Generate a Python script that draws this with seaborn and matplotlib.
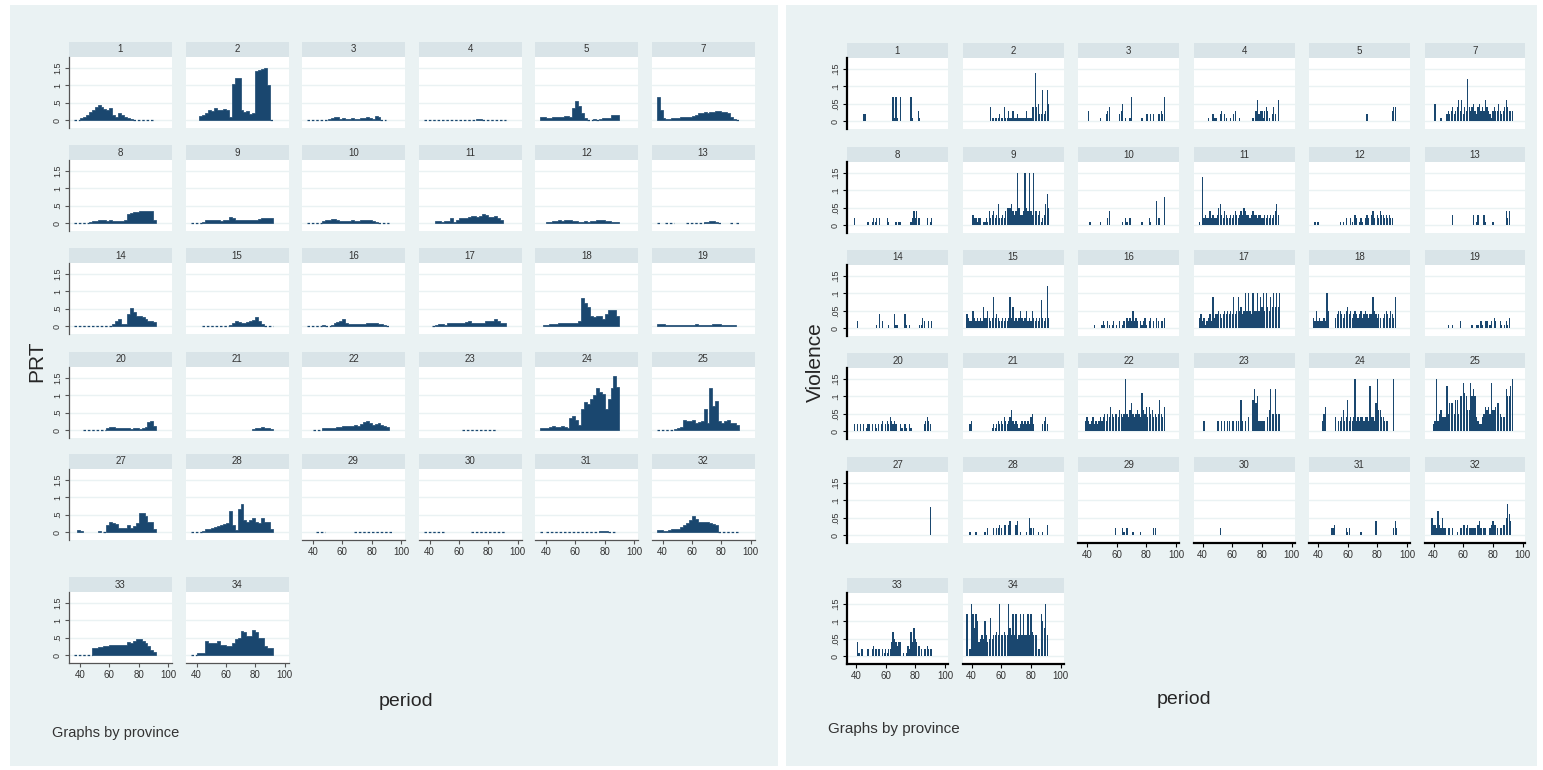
import numpy as np
import pandas as pd
import matplotlib
matplotlib.use('Agg')
import matplotlib.pyplot as plt
from matplotlib.patches import Rectangle
import seaborn as sns

N = None

provinces = [1, 2, 3, 4, 5, 7, 8, 9, 10, 11, 12, 13, 14, 15, 16, 17, 18, 19,
             20, 21, 22, 23, 24, 25, 27, 28, 29, 30, 31, 32, 33, 34]

# PRT, read every 2 periods (37, 39, ..., 93), in hundredths; None = no data
prt_periods = list(range(37, 94, 2))
prt_1 = [0, 0, 5, 10, 15, 22, 30, 38, 42, 38, 33, 30, 35, 15, 10, 20, 15, 10, 5, 3, 0, 0, 0, 0, 0, 0, 0, N, N]
prt_2 = [N, N, N, 12, 15, 20, 28, 25, 35, 30, 30, 32, 28, 10, 105, 120, 122, 30, 22, 25, 18, 20, 140, 145, 148, 150, 100, 0, N]
prt_3 = [0, 0, 0, 0, 0, 0, 0, 3, 5, 8, 8, 3, 5, 3, 3, 5, 3, 3, 5, 5, 8, 5, 3, 12, 8, 0, 0, N, N]
prt_4 = [0, 0, 0, 0, 0, 0, 0, 0, 0, 0, 0, 0, 0, 0, 0, 0, 0, 0, 3, 3, 0, 0, 0, 0, 0, 0, 0, 0, N]
prt_5 = [8, 8, 6, 6, 8, 8, 10, 10, 12, 12, 10, 35, 55, 40, 20, 5, 0, 0, 3, 0, 3, 5, 5, 5, 15, 15, 15, N, N]
prt_7 = [65, 30, 5, 3, 3, 5, 5, 5, 8, 8, 10, 10, 12, 15, 20, 20, 22, 20, 22, 22, 25, 25, 22, 22, 20, 10, 3, 0, N]
prt_8 = [0, 0, 0, 0, 0, 3, 5, 5, 8, 10, 10, 5, 8, 5, 5, 5, 5, 10, 25, 30, 32, 32, 35, 35, 35, 35, 35, 10, N]
prt_9 = [0, 0, 0, 0, 3, 8, 8, 8, 8, 8, 6, 8, 10, 18, 15, 8, 8, 8, 8, 10, 10, 10, 8, 12, 15, 15, 15, 15, N]
prt_10 = [0, 0, 0, 0, 0, 5, 10, 10, 12, 12, 10, 5, 5, 6, 5, 8, 6, 5, 8, 10, 8, 10, 6, 3, 0, 0, 0, 0, N]
prt_11 = [N, N, N, N, 5, 5, 3, 5, 5, 15, 3, 10, 15, 15, 15, 18, 20, 20, 18, 20, 25, 22, 18, 18, 20, 15, 10, N, N]
prt_12 = [N, N, 3, 3, 5, 5, 8, 6, 8, 10, 8, 5, 5, 3, 3, 5, 3, 5, 5, 8, 10, 8, 5, 5, 3, 3, 3, N, N]
prt_13 = [0, N, N, 0, 0, 0, N, N, N, N, 0, 0, 0, 0, 0, 0, 2, 3, 5, 5, 3, 0, N, N, N, 0, N, 0, N]
prt_14 = [0, 0, 0, 0, 0, 0, 0, 0, 0, 0, 0, 0, 0, 5, 15, 20, 5, 5, 35, 52, 40, 30, 28, 25, 20, 15, 15, 12, N]
prt_15 = [N, N, N, N, 0, 0, 0, 0, 0, 0, 0, 0, 0, 3, 10, 15, 12, 10, 10, 12, 15, 18, 25, 15, 5, 0, 0, 0, N]
prt_16 = [0, 0, 0, 0, 0, 3, 0, 0, 3, 10, 12, 15, 20, 8, 5, 5, 5, 5, 5, 5, 8, 10, 10, 10, 5, 5, 3, 0, N]
prt_17 = [N, N, N, 0, 3, 5, 5, 3, 8, 8, 10, 8, 10, 10, 12, 15, 10, 8, 8, 8, 10, 15, 15, 15, 20, 15, 10, 10, N]
prt_18 = [N, 2, 3, 5, 5, 5, 8, 8, 10, 8, 10, 8, 10, 15, 80, 65, 55, 30, 25, 28, 30, 20, 35, 45, 45, 45, 30, N, N]
prt_19 = [5, 5, 5, 3, 2, 3, 2, 2, 3, 2, 3, 3, 3, 5, 3, 3, 3, 2, 3, 5, 5, 5, 3, 3, 2, 2, 2, N, N]
prt_20 = [N, N, N, 0, 0, 0, 0, 0, 0, 0, 0, 5, 10, 8, 5, 5, 5, 5, 5, 3, 5, 5, 3, 5, 10, 22, 25, 12, N]
prt_21 = [N, N, N, N, N, N, N, N, N, N, N, N, N, N, N, N, N, N, N, N, N, 3, 5, 5, 8, 5, 5, 3, N]
prt_22 = [N, N, 0, 0, 0, 5, 5, 5, 5, 5, 8, 10, 12, 12, 12, 12, 15, 12, 18, 22, 25, 20, 15, 18, 20, 15, 12, 10, N]
prt_23 = [N, N, N, N, N, N, N, N, N, N, N, N, N, 0, 0, 0, 0, 0, 0, 0, 0, 0, 0, 0, 0, N, N, N, N]
prt_24 = [5, 5, 5, 8, 12, 10, 10, 12, 10, 5, 35, 40, 30, 15, 60, 80, 75, 90, 100, 120, 110, 105, 60, 90, 120, 155, 125, N, N]
prt_25 = [0, 0, 0, 0, 0, 0, 3, 5, 8, 30, 25, 25, 30, 20, 22, 25, 60, 20, 120, 70, 85, 25, 20, 25, 30, 20, 20, 15, N]
prt_27 = [N, 5, 3, N, N, N, N, N, 2, N, 0, 20, 28, 25, 22, 12, 12, 12, 20, 12, 18, 25, 55, 55, 45, 30, 28, 10, N]
prt_28 = [0, 0, 0, 0, 3, 8, 10, 12, 15, 18, 20, 22, 25, 60, 20, 5, 65, 80, 35, 30, 35, 40, 30, 25, 40, 30, 30, 10, N]
prt_29 = [N, N, N, 0, 0, 0, N, N, N, N, N, N, N, N, N, N, 0, 0, 0, 0, 0, 0, 0, 0, 0, 0, 0, 0, 0]
prt_30 = [0, 0, 0, 0, 0, 0, 0, N, N, N, N, N, N, N, N, N, 0, 0, 0, 0, 0, 0, 0, 0, 0, 0, 0, 0, N]
prt_31 = [0, N, 0, 0, 0, 0, 0, 0, 0, 0, 0, 0, 0, 0, 0, 0, 0, 0, 0, 0, 2, 3, 2, 0, 0, 0, N, N, N]
prt_32 = [5, 5, 3, 3, 5, 8, 10, 10, 15, 20, 25, 35, 45, 38, 30, 30, 28, 28, 25, 22, 20, 0, 0, 0, 0, 0, 0, 0, N]
prt_33 = [0, 0, 0, 0, 0, 0, 20, 20, 22, 22, 25, 25, 28, 28, 28, 28, 28, 28, 38, 35, 40, 45, 45, 40, 35, 25, 15, 10, N]
prt_34 = [0, 0, 5, 5, 5, 40, 35, 35, 35, 40, 30, 28, 25, 25, 35, 45, 50, 70, 65, 55, 55, 72, 65, 50, 50, 25, 20, 20, N]

# Violence by period, in hundredths
vio_1 = {45: 2, 46: 2, 65: 7, 66: 1, 67: 7, 68: 1, 70: 7, 77: 7, 78: 1, 82: 3, 83: 1}
vio_2 = {53: 4, 54: 1, 55: 1, 56: 1, 57: 1, 58: 1, 59: 2, 60: 1, 61: 1, 62: 4, 63: 1, 64: 1, 65: 3, 66: 1,
         67: 1, 68: 3, 69: 1, 70: 1, 71: 2, 72: 1, 73: 1, 74: 1, 75: 1, 76: 1, 77: 3, 78: 1, 79: 1, 80: 1,
         81: 4, 82: 4, 83: 14, 84: 4, 85: 5, 86: 2, 87: 2, 88: 9, 89: 2, 90: 3, 91: 9, 92: 5}
vio_3 = {41: 3, 49: 1, 53: 2, 54: 3, 55: 4, 62: 2, 63: 3, 64: 5, 66: 1, 69: 1, 70: 7, 77: 1, 80: 2, 81: 2,
         83: 2, 85: 2, 88: 2, 89: 2, 90: 3, 91: 2, 92: 7}
vio_4 = {44: 1, 47: 2, 48: 1, 49: 1, 52: 2, 53: 3, 55: 2, 56: 1, 59: 1, 61: 2, 62: 3, 65: 1, 74: 1, 76: 3,
         77: 6, 78: 2, 79: 3, 80: 3, 81: 1, 82: 3, 83: 4, 84: 3, 85: 1, 87: 2, 88: 4, 89: 2, 91: 6}
vio_5 = {73: 2, 90: 3, 91: 4, 92: 4}
vio_7 = {41: 5, 45: 1, 49: 2, 50: 3, 51: 2, 52: 3, 53: 4, 54: 2, 55: 3, 56: 4, 57: 6, 58: 3, 59: 6, 60: 2,
         61: 4, 62: 3, 63: 12, 64: 4, 65: 3, 66: 4, 67: 5, 68: 3, 69: 2, 70: 4, 71: 5, 72: 3, 73: 4, 74: 3,
         75: 6, 76: 4, 77: 3, 78: 2, 79: 1, 80: 3, 81: 4, 82: 3, 83: 3, 84: 5, 85: 3, 86: 2, 87: 3, 88: 4,
         89: 6, 90: 4, 91: 3, 92: 3, 93: 3}
vio_8 = {39: 2, 48: 1, 51: 1, 52: 2, 53: 1, 54: 2, 56: 2, 61: 2, 62: 1, 67: 1, 69: 1, 70: 1, 77: 1, 78: 2,
         79: 4, 80: 2, 81: 4, 82: 2, 83: 2, 88: 2, 90: 1, 91: 2}
vio_9 = {41: 3, 42: 2, 43: 2, 44: 1, 45: 2, 46: 2, 48: 1, 49: 1, 50: 2, 51: 1, 52: 4, 53: 2, 54: 3, 55: 4,
         56: 2, 57: 3, 58: 6, 59: 2, 60: 2, 61: 3, 62: 2, 63: 4, 64: 5, 65: 5, 66: 5, 67: 6, 68: 4, 69: 3,
         70: 4, 71: 15, 72: 5, 73: 3, 74: 3, 75: 4, 76: 15, 77: 5, 78: 4, 79: 15, 80: 4, 81: 3, 82: 15,
         83: 4, 84: 4, 85: 3, 86: 4, 87: 1, 88: 2, 89: 3, 90: 6, 91: 9, 92: 5}
vio_10 = {42: 1, 49: 1, 54: 2, 55: 4, 64: 1, 66: 2, 67: 1, 69: 2, 77: 1, 82: 2, 83: 1, 87: 7, 88: 2, 89: 2,
          92: 8}
vio_11 = {38: 1, 40: 14, 41: 2, 42: 3, 43: 2, 44: 2, 45: 4, 46: 2, 47: 3, 48: 2, 49: 2, 50: 3, 51: 5,
          52: 6, 53: 3, 54: 2, 55: 4, 56: 3, 57: 2, 58: 2, 59: 3, 60: 2, 61: 3, 62: 4, 63: 3, 64: 2, 65: 3,
          66: 4, 67: 3, 68: 5, 69: 4, 70: 3, 71: 3, 72: 2, 73: 3, 74: 4, 75: 3, 76: 3, 77: 2, 78: 3, 79: 3,
          80: 2, 81: 2, 82: 3, 83: 2, 84: 3, 85: 2, 86: 3, 87: 2, 88: 3, 89: 4, 90: 6, 91: 3}
vio_12 = {38: 1, 40: 1, 55: 1, 57: 1, 59: 2, 62: 2, 63: 1, 65: 3, 66: 2, 68: 1, 69: 2, 70: 1, 72: 2, 73: 3,
          74: 2, 76: 3, 77: 4, 78: 2, 80: 3, 81: 2, 82: 4, 83: 3, 84: 3, 85: 2, 86: 3, 87: 2, 88: 3, 89: 2,
          90: 2}
vio_13 = {53: 3, 67: 3, 69: 1, 70: 3, 74: 3, 75: 1, 80: 1, 89: 4, 90: 2, 91: 4}
vio_14 = {41: 2, 54: 1, 56: 4, 58: 2, 62: 1, 66: 4, 67: 1, 68: 1, 73: 4, 74: 1, 76: 1, 83: 1, 84: 1, 85: 3,
          86: 2, 89: 2, 91: 2}
vio_15 = {37: 4, 38: 3, 39: 2, 40: 2, 41: 5, 42: 3, 43: 2, 44: 3, 45: 2, 46: 3, 47: 2, 48: 6, 49: 3, 50: 3,
          51: 5, 52: 3, 53: 2, 54: 3, 55: 9, 56: 3, 57: 4, 58: 3, 59: 2, 60: 2, 61: 3, 62: 2, 63: 3, 64: 2,
          65: 3, 66: 9, 67: 3, 68: 6, 69: 2, 70: 3, 71: 2, 72: 3, 73: 5, 74: 3, 75: 2, 76: 3, 77: 5, 78: 2,
          79: 3, 80: 2, 81: 5, 82: 3, 83: 2, 84: 3, 85: 2, 86: 3, 87: 8, 88: 3, 89: 2, 90: 3, 91: 12, 92: 3}
vio_16 = {45: 1, 50: 1, 51: 2, 52: 1, 54: 2, 55: 1, 57: 1, 58: 2, 60: 1, 62: 2, 64: 1, 65: 2, 67: 3, 68: 2,
          69: 3, 70: 2, 71: 5, 72: 2, 73: 3, 74: 2, 76: 2, 77: 1, 78: 2, 79: 3, 80: 1, 82: 2, 83: 3, 85: 2,
          87: 3, 88: 2, 90: 2, 91: 2, 92: 3}
vio_17 = {38: 3, 39: 4, 40: 2, 41: 3, 42: 1, 43: 2, 44: 3, 45: 4, 46: 2, 47: 9, 48: 3, 49: 4, 50: 4, 51: 5,
          52: 4, 53: 3, 54: 4, 55: 5, 56: 4, 57: 5, 58: 4, 59: 5, 60: 4, 61: 9, 62: 4, 63: 5, 64: 9, 65: 5,
          66: 6, 67: 4, 68: 5, 69: 10, 70: 5, 71: 10, 72: 5, 73: 4, 74: 10, 75: 5, 76: 5, 77: 10, 78: 5,
          79: 9, 80: 6, 81: 10, 82: 5, 83: 10, 84: 6, 85: 5, 86: 9, 87: 6, 88: 10, 89: 6, 90: 10, 91: 6,
          92: 10}
vio_18 = {37: 3, 38: 2, 39: 5, 40: 2, 41: 3, 42: 2, 43: 2, 44: 3, 45: 2, 46: 10, 47: 5, 52: 3, 53: 4,
          54: 5, 55: 5, 56: 4, 57: 3, 58: 4, 59: 5, 60: 6, 61: 4, 62: 5, 63: 3, 64: 4, 65: 5, 66: 4, 67: 3,
          68: 4, 69: 5, 70: 3, 71: 4, 72: 5, 73: 4, 74: 3, 75: 4, 76: 4, 77: 9, 78: 5, 79: 4, 80: 3, 81: 4,
          82: 3, 84: 3, 85: 4, 86: 5, 87: 4, 88: 3, 89: 5, 90: 4, 91: 3, 92: 9}
vio_19 = {50: 1, 53: 1, 58: 2, 66: 1, 69: 1, 70: 1, 72: 2, 73: 1, 75: 2, 76: 2, 78: 1, 79: 2, 81: 3, 82: 2,
          85: 2, 86: 1, 88: 1, 89: 2, 90: 1, 91: 3}
vio_20 = {39: 2, 41: 2, 43: 2, 45: 2, 47: 1, 48: 2, 49: 2, 51: 2, 53: 2, 54: 1, 55: 2, 57: 2, 58: 3, 60: 2,
          61: 3, 62: 2, 63: 4, 64: 3, 65: 2, 66: 3, 67: 2, 70: 2, 71: 1, 73: 2, 74: 1, 76: 2, 77: 1, 86: 2,
          87: 3, 88: 4, 89: 3, 90: 2}
vio_21 = {39: 2, 40: 3, 54: 1, 55: 2, 56: 1, 57: 2, 58: 3, 59: 2, 60: 3, 61: 2, 62: 4, 63: 3, 64: 2, 65: 3,
          66: 4, 67: 6, 68: 3, 69: 2, 70: 3, 71: 2, 72: 1, 73: 2, 74: 3, 75: 2, 76: 3, 77: 2, 78: 3, 79: 2,
          80: 4, 81: 5, 82: 2, 88: 2, 89: 3, 90: 4, 91: 2}
vio_22 = {39: 3, 40: 4, 41: 3, 42: 2, 43: 3, 44: 4, 45: 2, 46: 3, 47: 2, 48: 3, 49: 4, 50: 3, 51: 4, 52: 5,
          53: 3, 54: 5, 55: 4, 56: 7, 57: 5, 58: 4, 59: 5, 60: 5, 61: 4, 62: 6, 63: 5, 64: 4, 65: 5, 66: 15,
          67: 5, 68: 4, 69: 6, 70: 8, 71: 5, 72: 4, 73: 5, 74: 6, 75: 5, 76: 4, 77: 11, 78: 6, 79: 5, 80: 7,
          81: 4, 82: 7, 83: 5, 84: 6, 85: 4, 86: 5, 87: 4, 88: 5, 89: 9, 90: 5, 91: 4, 92: 7}
vio_23 = {41: 3, 50: 3, 51: 3, 53: 3, 55: 3, 57: 3, 58: 3, 60: 3, 61: 3, 63: 3, 64: 3, 66: 9, 67: 3, 69: 3,
          71: 4, 74: 9, 75: 12, 76: 8, 77: 10, 78: 3, 79: 3, 80: 3, 81: 3, 82: 3, 84: 4, 85: 6, 86: 12,
          87: 5, 88: 5, 89: 12, 90: 5, 91: 5, 92: 5}
vio_24 = {43: 3, 44: 5, 45: 7, 52: 4, 54: 3, 55: 3, 56: 4, 57: 6, 58: 3, 59: 4, 60: 9, 61: 3, 62: 4, 63: 3,
          64: 4, 65: 15, 66: 3, 67: 4, 68: 3, 69: 4, 70: 4, 71: 3, 72: 4, 73: 4, 74: 3, 75: 13, 76: 4,
          77: 4, 78: 3, 79: 8, 80: 15, 81: 6, 82: 6, 83: 4, 84: 4, 85: 3, 86: 3, 87: 3, 91: 15}
vio_25 = {40: 2, 41: 3, 42: 15, 43: 3, 44: 5, 45: 6, 46: 4, 47: 4, 48: 4, 49: 13, 50: 5, 51: 8, 52: 8,
          53: 8, 54: 5, 55: 9, 56: 9, 57: 5, 58: 10, 59: 10, 60: 14, 61: 11, 62: 10, 63: 6, 64: 6, 65: 14,
          66: 10, 67: 12, 68: 10, 69: 4, 70: 3, 71: 2, 72: 2, 73: 4, 74: 5, 75: 7, 76: 6, 77: 7, 78: 5,
          79: 14, 80: 6, 81: 6, 82: 7, 83: 8, 84: 8, 85: 5, 86: 4, 87: 4, 88: 4, 89: 12, 90: 10, 91: 10,
          92: 13, 93: 15}
vio_27 = {90: 8}
vio_28 = {39: 1, 43: 1, 49: 1, 51: 2, 55: 2, 57: 2, 58: 2, 59: 3, 60: 2, 62: 3, 63: 3, 65: 3, 66: 4, 70: 3,
          71: 4, 73: 1, 77: 1, 79: 5, 80: 2, 82: 2, 85: 1, 88: 1, 91: 3}
vio_29 = {59: 2, 64: 2, 65: 1, 67: 2, 71: 1, 76: 1, 85: 2, 86: 2}
vio_30 = {52: 2}
vio_31 = {49: 2, 50: 2, 51: 3, 59: 2, 60: 1, 61: 2, 69: 1, 79: 4, 91: 2, 92: 4, 93: 2}
vio_32 = {39: 5, 40: 3, 41: 3, 42: 2, 43: 7, 44: 3, 45: 2, 46: 5, 47: 2, 48: 2, 50: 2, 51: 2, 53: 2, 56: 1,
          58: 2, 59: 2, 60: 3, 61: 3, 62: 2, 63: 3, 64: 2, 65: 2, 66: 2, 67: 2, 68: 2, 70: 3, 71: 4, 72: 2,
          74: 2, 75: 2, 78: 2, 79: 3, 80: 4, 81: 3, 82: 3, 83: 2, 85: 2, 86: 2, 87: 3, 88: 3, 89: 5, 90: 9,
          91: 6, 92: 4}
vio_33 = {41: 4, 42: 1, 44: 2, 48: 2, 51: 2, 52: 3, 53: 2, 54: 2, 55: 2, 56: 2, 58: 2, 59: 1, 60: 2, 61: 1,
          62: 2, 63: 2, 64: 4, 65: 7, 66: 5, 67: 4, 68: 3, 69: 4, 70: 4, 72: 1, 74: 1, 75: 3, 76: 2, 77: 7,
          78: 4, 79: 8, 80: 5, 81: 4, 82: 3, 83: 3, 84: 2, 86: 2, 87: 2, 88: 3, 89: 2, 90: 2, 91: 2}
vio_34 = {37: 12, 39: 2, 40: 15, 41: 12, 42: 8, 43: 12, 44: 10, 45: 4, 46: 5, 47: 6, 48: 5, 49: 10, 50: 6,
          51: 4, 52: 5, 53: 11, 54: 5, 55: 6, 56: 6, 57: 7, 58: 6, 59: 15, 60: 6, 61: 6, 62: 7, 63: 6,
          64: 6, 65: 15, 66: 8, 67: 6, 68: 12, 69: 6, 70: 12, 71: 5, 72: 6, 73: 12, 74: 6, 75: 12, 76: 6,
          77: 6, 78: 12, 79: 6, 80: 12, 81: 7, 82: 6, 83: 6, 84: 6, 85: 2, 86: 2, 87: 12, 88: 10, 89: 8,
          90: 15, 91: 6}

prt_series = [prt_1, prt_2, prt_3, prt_4, prt_5, prt_7, prt_8, prt_9, prt_10, prt_11, prt_12, prt_13,
              prt_14, prt_15, prt_16, prt_17, prt_18, prt_19, prt_20, prt_21, prt_22, prt_23, prt_24,
              prt_25, prt_27, prt_28, prt_29, prt_30, prt_31, prt_32, prt_33, prt_34]
vio_series = [vio_1, vio_2, vio_3, vio_4, vio_5, vio_7, vio_8, vio_9, vio_10, vio_11, vio_12, vio_13,
              vio_14, vio_15, vio_16, vio_17, vio_18, vio_19, vio_20, vio_21, vio_22, vio_23, vio_24,
              vio_25, vio_27, vio_28, vio_29, vio_30, vio_31, vio_32, vio_33, vio_34]

navy = '#1a476f'
bg = '#eaf2f3'
strip_col = '#d9e4e8'

sns.set_style('white')
plt.rcParams['font.family'] = ['Liberation Sans', 'DejaVu Sans']

W, H = 1543, 770
fig = plt.figure(figsize=(W / 100, H / 100), dpi=100)
fig.patch.set_facecolor('white')


def px_axes(x, y, w, h):
    return fig.add_axes([x / W, 1 - (y + h) / H, w / W, h / H])


def px_rect(x, y, w, h, color):
    fig.add_artist(Rectangle((x / W, 1 - (y + h) / H), w / W, h / H, transform=fig.transFigure,
                             facecolor=color, edgecolor='none', zorder=0))


px_rect(10, 5, 768, 761, bg)
px_rect(786, 5, 751, 761, bg)

panels = [
    dict(x0=69, step=116.5, w=103, tops=[42, 145, 248, 352, 454, 577], xlim=(32.5, 102.7),
         ylim=(-0.23, 1.817), yticks=[0, 0.5, 1, 1.5], ylabels=['0', '.5', '1', '1.5'],
         spine='#555555', lw=0.9, kind='area'),
    dict(x0=847, step=115.5, w=101, tops=[43, 147, 250, 353, 457, 578], xlim=(33.9, 102.0),
         ylim=(-0.023, 0.182), yticks=[0, 0.05, 0.1, 0.15], ylabels=['0', '.05', '.1', '.15'],
         spine='black', lw=1.6, kind='bar'),
]


def segments(periods, values):
    # split into consecutive stretches of zero values and of positive values
    out, cur, kind = [], [], None
    for p, v in zip(periods, values):
        k = None if v is None else ('zero' if v == 0 else 'pos')
        if k != kind:
            if cur:
                out.append((kind, cur))
            cur, kind = [], k
        if k is not None:
            cur.append((p, v))
    if cur:
        out.append((kind, cur))
    return out


for cfg in panels:
    for i, prov in enumerate(provinces):
        r, c = divmod(i, 6)
        x = cfg['x0'] + cfg['step'] * c
        top = cfg['tops'][r]
        sax = px_axes(x, top, cfg['w'], 15)
        sax.set_facecolor(strip_col)
        sax.set_xticks([])
        sax.set_yticks([])
        for s in sax.spines.values():
            s.set_visible(False)
        sax.text(0.5, 0.5, str(prov), ha='center', va='center', fontsize=7, color='#333333',
                 transform=sax.transAxes)

        ax = px_axes(x, top + 15, cfg['w'], 71)
        ax.set_facecolor('white')

        if cfg['kind'] == 'area':
            for kind, seg in segments(prt_periods, prt_series[i]):
                df = pd.DataFrame(seg, columns=['period', 'prt'])
                df['prt'] = df['prt'] / 100
                lo, hi = df['period'].min() - 1, df['period'].max() + 1
                if kind == 'pos':
                    sns.histplot(data=df, x='period', weights='prt', binwidth=2, binrange=(lo, hi),
                                 element='step', fill=True, color=navy, alpha=1, linewidth=0.5,
                                 ax=ax)
                else:
                    sns.histplot(data=df, x='period', weights='prt', binwidth=2, binrange=(lo, hi),
                                 element='step', fill=False, color=navy, linewidth=0.9,
                                 linestyle=(0, (2, 1.5)), ax=ax)
        else:
            d = vio_series[i]
            df = pd.DataFrame({'period': list(d.keys()), 'vio': [v / 100 for v in d.values()]})
            sns.histplot(data=df, x='period', weights='vio', discrete=True, element='bars',
                         shrink=0.85, color=navy, alpha=1, linewidth=0, ax=ax)

        ax.set_xlim(*cfg['xlim'])
        ax.set_ylim(*cfg['ylim'])
        ax.set_xlabel('')
        ax.set_ylabel('')
        ax.set_yticks(cfg['yticks'])
        ax.set_xticks([40, 60, 80, 100])
        ax.grid(axis='y', color=bg, linewidth=1.0)
        ax.grid(axis='x', visible=False)
        ax.set_axisbelow(True)
        for s in ax.spines.values():
            s.set_visible(False)

        is_left = c == 0
        is_bottom = r == 5 or (r == 4 and c >= 2)
        if is_left:
            ax.spines['left'].set_visible(True)
            ax.spines['left'].set_color(cfg['spine'])
            ax.spines['left'].set_linewidth(cfg['lw'])
            ax.set_yticklabels(cfg['ylabels'], rotation=90, va='center')
        if is_bottom:
            ax.spines['bottom'].set_visible(True)
            ax.spines['bottom'].set_color(cfg['spine'])
            ax.spines['bottom'].set_linewidth(cfg['lw'])
            ax.set_xticklabels(['40', '60', '80', '100'])
        ax.tick_params(axis='y', left=is_left, labelleft=is_left, length=3, width=0.8,
                       color=cfg['spine'], labelsize=6.5, pad=2, labelcolor='#333333')
        ax.tick_params(axis='x', bottom=is_bottom, labelbottom=is_bottom, length=3, width=0.8,
                       color=cfg['spine'], labelsize=7, pad=2, labelcolor='#333333')

# axis titles and notes
fig.text(37 / W, 1 - 361 / H, 'PRT', rotation=90, ha='center', va='center', fontsize=15)
fig.text(406 / W, 1 - 701 / H, 'period', ha='center', va='center', fontsize=14)
fig.text(52 / W, 1 - 733 / H, 'Graphs by province', ha='left', va='center', fontsize=10.5,
         color='#333333')
fig.text(815 / W, 1 - 362 / H, 'Violence', rotation=90, ha='center', va='center', fontsize=15)
fig.text(1184 / W, 1 - 699 / H, 'period', ha='center', va='center', fontsize=14)
fig.text(828 / W, 1 - 729 / H, 'Graphs by province', ha='left', va='center', fontsize=11,
         color='#333333')

fig.savefig('out.png', dpi=100)
